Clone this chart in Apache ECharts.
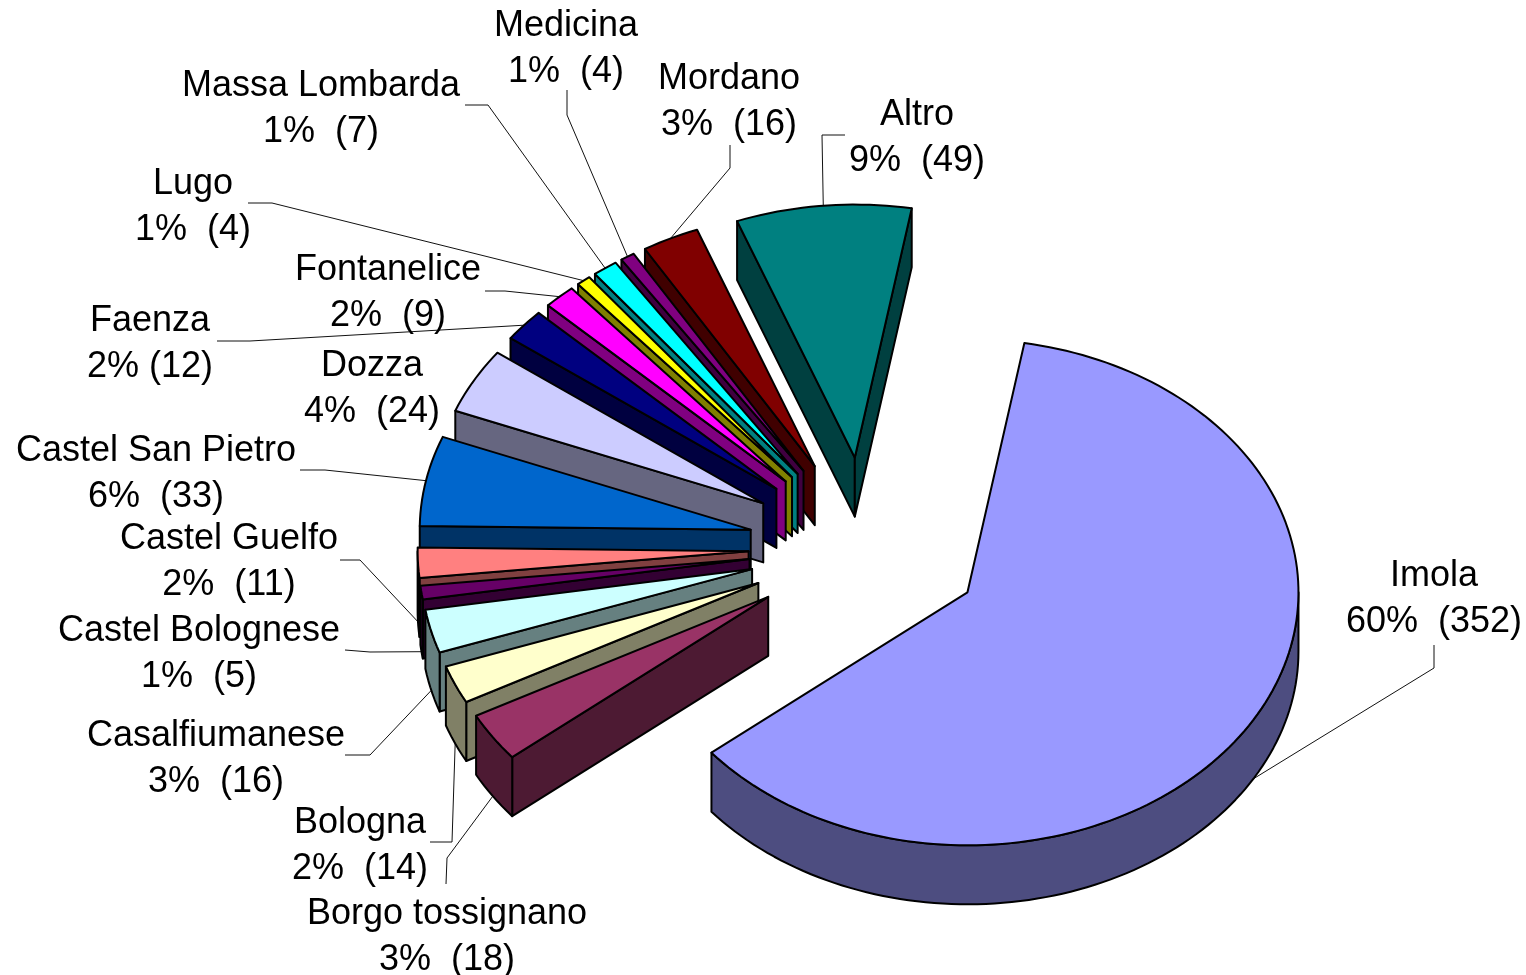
<!DOCTYPE html>
<html>
<head>
<meta charset="utf-8">
<title>Pie</title>
<script src="https://cdn.jsdelivr.net/npm/echarts@6/dist/echarts.min.js"></script>
<style>
html,body{margin:0;padding:0;background:#fff}
#chart{width:1526px;height:975px}
</style>
</head>
<body>
<div id="chart"></div>
<script>
// chart values, clockwise from Imola
const categories = ["Imola","Borgo tossignano","Bologna","Casalfiumanese","Castel Bolognese","Castel Guelfo","Castel San Pietro","Dozza","Faenza","Fontanelice","Lugo","Massa Lombarda","Medicina","Mordano","Altro"]
const counts = [352,18,14,16,5,11,33,24,12,9,4,7,4,16,49]
const percentLabels = ["60%  (352)","3%  (18)","2%  (14)","3%  (16)","1%  (5)","2%  (11)","6%  (33)","4%  (24)","2% (12)","2%  (9)","1%  (4)","1%  (7)","1%  (4)","3%  (16)","9%  (49)"]
const topColors = ["#9999FF","#993366","#FFFFCC","#CCFFFF","#660066","#FF8080","#0066CC","#CCCCFF","#000080","#FF00FF","#FFFF00","#00FFFF","#800080","#800000","#008080"]
const sideColors = ["#4D4D80","#4D1A33","#808066","#668080","#330033","#804040","#003366","#666680","#000040","#800080","#808000","#008080","#400040","#400000","#004040"]

// layout of the labels: centre of the two text lines
const labelCenters = [[1434,599],[447,937],[360,846],[216,759],[199,654],[229,562],[156,474],[372,389],[150,344],[388,293],[193,207],[321,109],[566,49],[729,102],[917,138]]
// leader start and knee, the last point is taken from the slice
const leaderKnees = [[[1434,645],[1434,668]],[[446,884],[447,858]],[[430,842],[452,842]],[[345,755],[370,755]],[[345,650],[370,652]],[[340,560],[360,560]],[[300,470],[325,470]],null,[[217,341],[250,341]],[[485,291],[505,291]],[[248,203],[272,203]],[[465,105],[488,105]],[[567,90],[567,115]],[[730,145],[730,168]],[[845,135],[822,135]]]

const cx = 866, cy = 547, rx = 331, ry = 253
const explode = 0.355, depth = 59, startDeg = 9.9
const total = counts.reduce((a,b)=>a+b,0)

function pt(deg, k){
	let r = deg*Math.PI/180
	return [rx*k*Math.sin(r), -ry*k*Math.cos(r)]
}
function sliceInfo(i){
	let before = 0
	for(let j=0;j<i;j++) before += counts[j]
	let a0 = startDeg + before/total*360
	let a1 = a0 + counts[i]/total*360
	let mid = (a0+a1)/2
	let off = pt(mid, explode)
	return {a0, a1, mid, ax:cx+off[0], ay:cy+off[1]}
}
function rimPoint(s, deg){
	let p = pt(deg,1)
	return [s.ax+p[0], s.ay+p[1]]
}
function down(p){ return [p[0],p[1]+depth] }
function faceVisible(s, p){
	let m = rimPoint(s, s.mid)
	let y = s.ay + (p[1]-s.ay)*(m[0]-s.ax)/(p[0]-s.ax)
	return m[1] < y
}
function arc(s, from, to){
	let pts = []
	let n = Math.max(2, Math.ceil((to-from)/1.5))
	for(let i=0;i<=n;i++) pts.push(rimPoint(s, from+(to-from)*i/n))
	return pts
}
function poly(points, fill){
	return {type:"polygon", shape:{points}, style:{fill, stroke:"#000", lineWidth:2, lineJoin:"round"}}
}

// back to front, by height of the apex
const drawOrder = counts.map((v,i)=>i).sort((a,b)=>sliceInfo(a).ay-sliceInfo(b).ay)
const sliceData = drawOrder.map(i=>[counts[i], i])
const labelData = categories.map((name,i)=>[counts[i], i])

function renderSlice(params, api){
	let i = api.value(1)
	let s = sliceInfo(i)
	let apex = [s.ax, s.ay]
	let children = []
	let p0 = rimPoint(s, s.a0), p1 = rimPoint(s, s.a1)
	if(faceVisible(s,p0)) children.push(poly([apex,p0,down(p0),down(apex)], sideColors[i]))
	if(faceVisible(s,p1)) children.push(poly([apex,p1,down(p1),down(apex)], sideColors[i]))
	let from = Math.max(s.a0,90), to = Math.min(s.a1,270)
	if(to>from){
		let top = arc(s,from,to)
		children.push(poly(top.concat(top.map(down).reverse()), sideColors[i]))
	}
	children.push(poly([apex].concat(arc(s,s.a0,s.a1)), topColors[i]))
	return {type:"group", children}
}

function renderLeader(params, api){
	let i = api.value(1)
	if(!leaderKnees[i]) return {type:"group", children:[]}
	let s = sliceInfo(i)
	let end = rimPoint(s, s.mid)
	if(s.mid>90 && s.mid<270) end = down(end)
	return {type:"polyline", shape:{points:leaderKnees[i].concat([end])}, style:{fill:null, stroke:"#111", lineWidth:1}}
}

function renderLabel(params, api){
	let i = api.value(1)
	return {type:"text", style:{
		text:categories[i]+"\n"+percentLabels[i],
		x:labelCenters[i][0], y:labelCenters[i][1],
		align:"center", verticalAlign:"middle",
		font:'36px "Liberation Sans"', lineHeight:46, fill:"#000"
	}}
}

const chart = echarts.init(document.getElementById("chart"))
chart.setOption({
	animation:false,
	backgroundColor:"#fff",
	series:[
		{type:"custom", coordinateSystem:"none", silent:true, z:1, data:labelData, renderItem:renderLeader},
		{type:"custom", coordinateSystem:"none", silent:true, z:2, data:sliceData, renderItem:renderSlice},
		{type:"custom", coordinateSystem:"none", silent:true, z:3, data:labelData, renderItem:renderLabel}
	]
})
</script>
</body>
</html>
